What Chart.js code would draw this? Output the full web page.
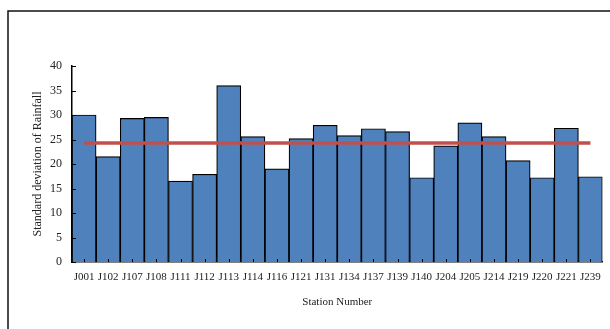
<!DOCTYPE html>
<html>
<head>
<meta charset="utf-8">
<script src="https://cdn.jsdelivr.net/npm/chart.js@4/dist/chart.umd.min.js"></script>
<style>
  html, body { margin: 0; padding: 0; background: #fff; }
  #wrap { width: 610px; height: 329px; position: relative; }
</style>
</head>
<body>
<div id="wrap"><canvas id="c" width="610" height="329"></canvas></div>
<script>
// Stations along the x axis
const stations = ['J001','J102','J107','J108','J111','J112','J113','J114','J116','J121','J131',
                  'J134','J137','J139','J140','J204','J205','J214','J219','J220','J221','J239'];
// Standard deviation of rainfall at each station
const stdDev = [30.0, 21.5, 29.3, 29.5, 16.5, 17.9, 36.0, 25.6, 19.0, 25.2, 27.9,
                25.8, 27.2, 26.6, 17.2, 23.7, 28.4, 25.6, 20.7, 17.2, 27.3, 17.4];
// Average level across all stations
const meanLevel = 24.3;
const meanLine = stations.map(() => meanLevel);
// Y axis range
const yMin = 0, yMax = 40, yStep = 5;

const FONT = 'Liberation Serif, "Times New Roman", serif';
const TEXT = '#222';

// Outer frame (top and left edges) plus inward tick marks on both axes
const decor = {
  id: 'decor',
  beforeDraw(chart) {
    const ctx = chart.ctx;
    ctx.save();
    ctx.strokeStyle = '#111';
    ctx.lineWidth = 1.5;
    ctx.beginPath();
    ctx.moveTo(8, 329);
    ctx.lineTo(8, 11);
    ctx.lineTo(610, 11);
    ctx.stroke();
    ctx.restore();
  },
  afterDraw(chart) {
    const ctx = chart.ctx;
    const xs = chart.scales.x, ys = chart.scales.y;
    ctx.save();
    ctx.strokeStyle = '#000';
    ctx.lineWidth = 1;
    ctx.beginPath();
    ys.ticks.forEach((t, i) => {
      const py = Math.round(ys.getPixelForTick(i)) + 0.5;
      ctx.moveTo(ys.right, py);
      ctx.lineTo(ys.right + 4, py);
    });
    xs.ticks.forEach((t, i) => {
      const px = Math.round(xs.getPixelForTick(i)) + 0.5;
      ctx.moveTo(px, xs.top);
      ctx.lineTo(px, xs.top - 3);
    });
    ctx.stroke();
    ctx.restore();
  }
};

new Chart(document.getElementById('c'), {
  type: 'bar',
  data: {
    labels: stations,
    datasets: [
      {
        type: 'line',
        data: meanLine,
        borderColor: '#C0504D',
        borderWidth: 3.5,
        pointRadius: 0,
        fill: false,
        order: 0
      },
      {
        type: 'bar',
        data: stdDev,
        backgroundColor: '#4F81BD',
        borderColor: '#000',
        borderWidth: 1.2,
        borderSkipped: 'bottom',
        barPercentage: 1.0,
        categoryPercentage: 1.0,
        order: 1
      }
    ]
  },
  options: {
    responsive: false,
    animation: false,
    devicePixelRatio: 1,
    layout: { padding: { top: 66, right: 7, left: 0, bottom: 0 } },
    plugins: {
      legend: { display: false },
      tooltip: { enabled: false }
    },
    scales: {
      x: {
        grid: { display: false, drawTicks: false },
        border: { display: true, color: '#000', width: 1.5 },
        ticks: {
          color: TEXT,
          font: { family: FONT, size: 11 },
          maxRotation: 0,
          autoSkip: false,
          padding: 9
        },
        title: {
          display: true,
          text: 'Station Number',
          color: TEXT,
          font: { family: FONT, size: 11 },
          padding: { top: 10, bottom: 20 }
        },
        afterFit(scale) { scale.height = 67; }
      },
      y: {
        min: yMin,
        max: yMax,
        grid: { display: false, drawTicks: false },
        border: { display: true, color: '#000', width: 1.5 },
        ticks: {
          stepSize: yStep,
          color: TEXT,
          font: { family: FONT, size: 12 },
          padding: 10
        },
        title: {
          display: true,
          text: 'Standard deviation of Rainfall',
          color: TEXT,
          font: { family: FONT, size: 12 },
          padding: { top: 31, bottom: 0 }
        },
        afterFit(scale) { scale.width = 72; }
      }
    }
  },
  plugins: [decor]
});
</script>
</body>
</html>
